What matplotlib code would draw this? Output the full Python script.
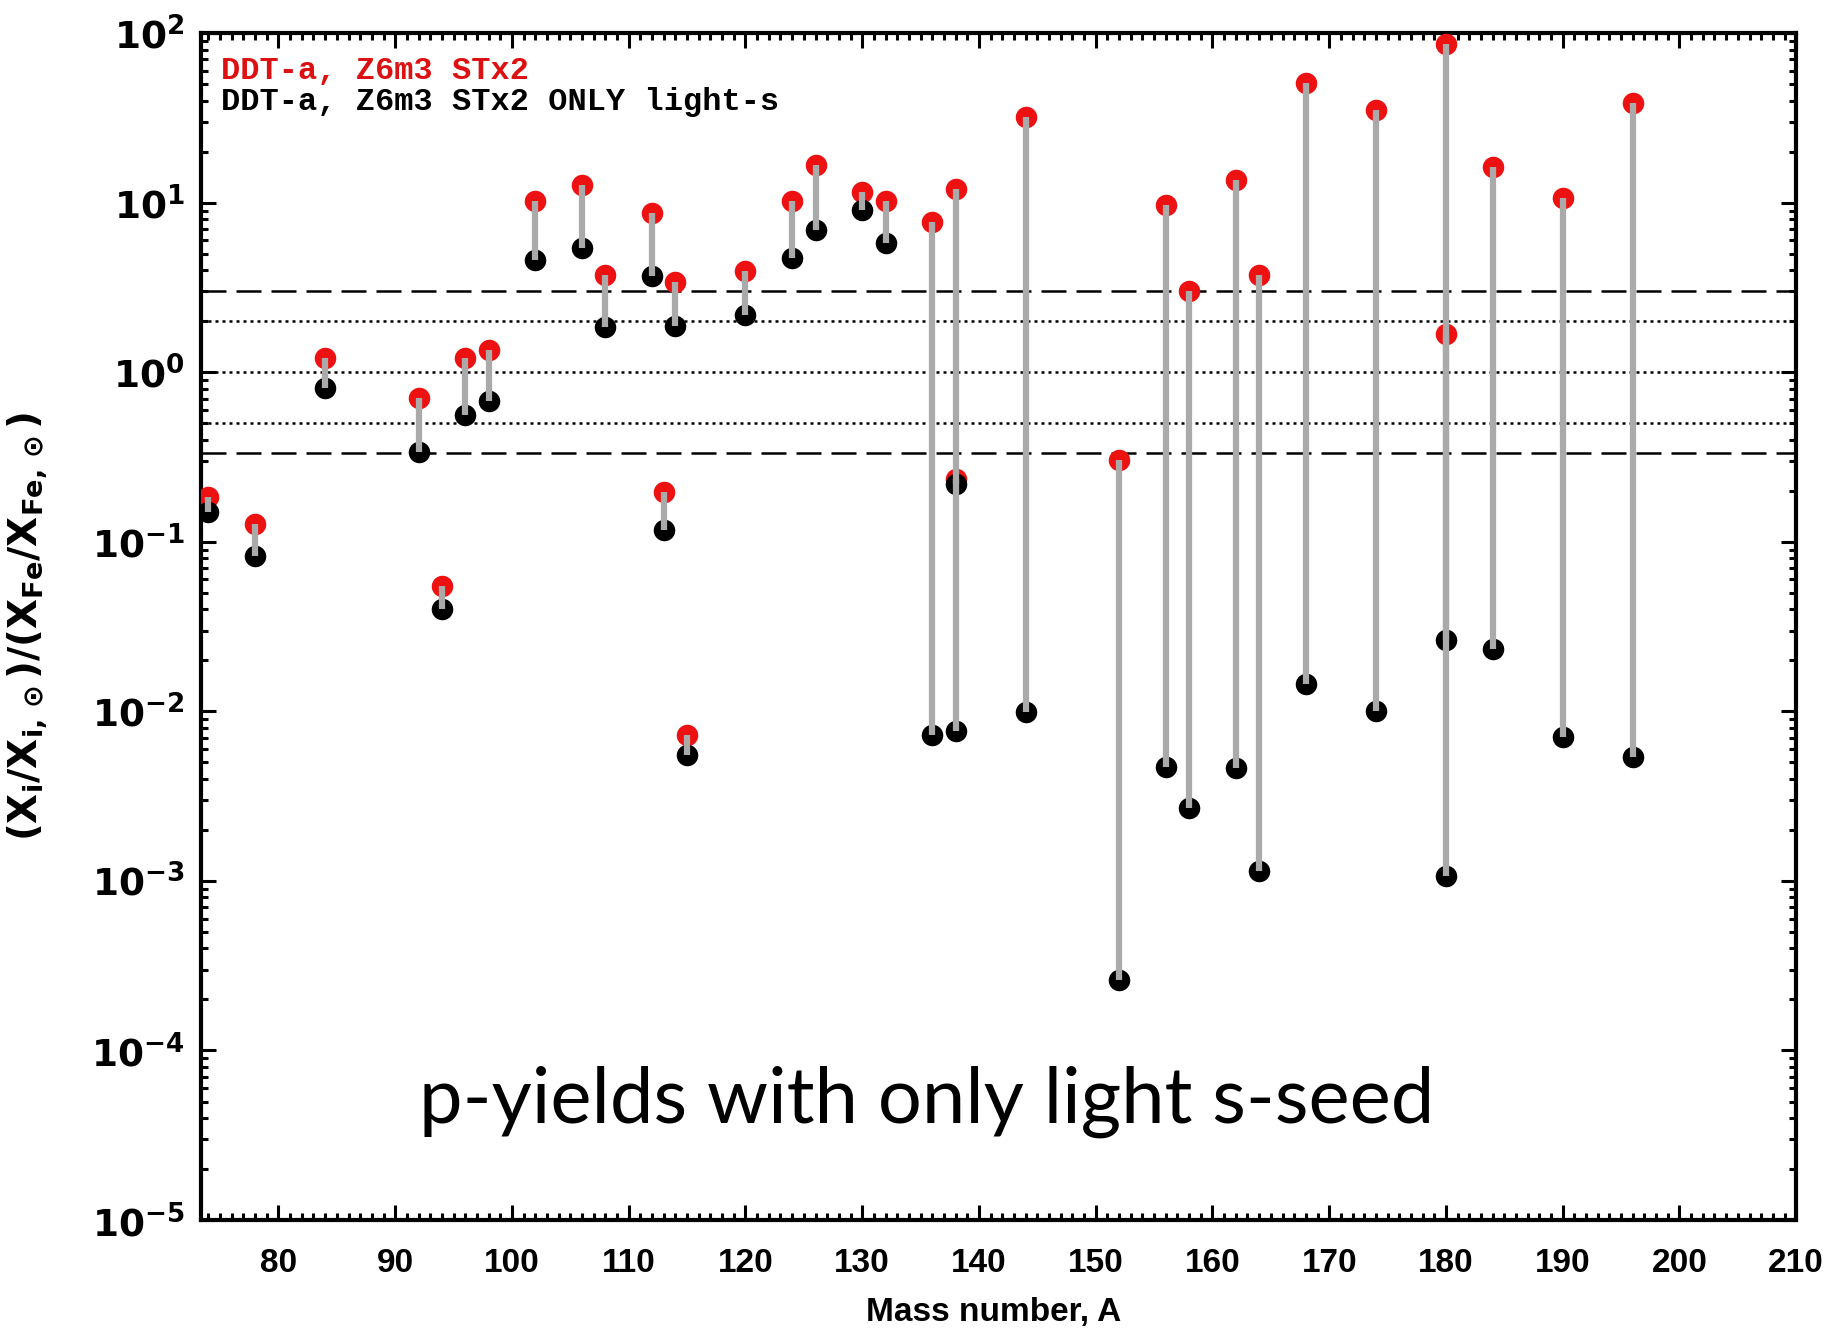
import numpy as np
import matplotlib
matplotlib.use('Agg')
import matplotlib.pyplot as plt
from matplotlib.ticker import MultipleLocator, LogLocator, NullFormatter

# Mass numbers of the p-nuclei and the two model yields
mass = [74, 78, 84, 92, 94, 96, 98, 102, 106, 108, 112, 113, 114, 115, 120,
        124, 126, 130, 132, 136, 138, 138, 144, 152, 156, 158, 162, 164, 168,
        174, 180, 180, 184, 190, 196]
full_s = [0.185, 0.127, 1.22, 0.71, 0.055, 1.22, 1.36, 10.2, 12.7, 3.76, 8.7,
          0.197, 3.42, 0.0073, 3.94, 10.2, 16.7, 11.6, 10.2, 7.7, 12.0, 0.235,
          31.9, 0.303, 9.7, 3.01, 13.6, 3.76, 50.6, 35.2, 86.7, 1.68, 16.2,
          10.7, 38.7]
light_s = [0.15, 0.083, 0.81, 0.34, 0.040, 0.56, 0.68, 4.6, 5.4, 1.84, 3.7,
           0.117, 1.87, 0.0055, 2.19, 4.7, 6.9, 9.1, 5.8, 0.0073, 0.0077, 0.22,
           0.00987, 0.000262, 0.00469, 0.00269, 0.00461, 0.00115, 0.01445,
           0.0100, 0.0264, 0.00107, 0.0232, 0.00708, 0.0054]

dashed_levels = [3.0, 1.0 / 3.0]
dotted_levels = [2.0, 1.0, 0.5]

plt.rcParams['font.family'] = ['DejaVu Sans']

fig = plt.figure(figsize=(18.31, 13.29), dpi=100)
ax = fig.add_axes([0.110, 0.082, 0.871, 0.893])

for y in dashed_levels:
    ax.axhline(y, color='black', lw=1.8, dashes=(10, 4), zorder=1)
for y in dotted_levels:
    ax.axhline(y, color='black', lw=1.8, dashes=(1.2, 1.6), zorder=1)

ax.plot(mass, full_s, 'o', color='#ee1111', ms=15.5, mec='none', zorder=3)
ax.plot(mass, light_s, 'o', color='black', ms=15.5, mec='none', zorder=4)
ax.vlines(mass, light_s, full_s, color='#aaaaaa', lw=4.5, zorder=5)

ax.set_yscale('log')
ax.set_xlim(73.4, 210)
ax.set_ylim(1e-5, 1e2)

ax.xaxis.set_minor_locator(MultipleLocator(1))
ax.set_xticks(range(80, 211, 10))
ax.set_xticklabels([str(v) for v in range(80, 211, 10)],
                   family='Liberation Sans', fontweight='bold', fontsize=24)
ax.set_yticks([10.0 ** e for e in range(-5, 3)])
ax.set_yticklabels([r'$\mathbf{10^{%d}}$' % e for e in range(-5, 3)], fontsize=27)
ax.yaxis.set_minor_locator(LogLocator(base=10, subs=np.arange(2, 10), numticks=20))
ax.yaxis.set_minor_formatter(NullFormatter())

ax.tick_params(which='both', direction='in', top=True, right=True, width=2.2)
ax.tick_params(which='major', length=11)
ax.tick_params(which='minor', length=5)
ax.tick_params(axis='x', which='major', pad=20)
ax.tick_params(axis='y', which='major', pad=12)
for sp in ax.spines.values():
    sp.set_linewidth(3)

ax.set_xlabel('Mass number, A', family='Liberation Sans',
              fontweight='bold', fontsize=24)
ax.xaxis.set_label_coords(0.497, -0.065)
ax.set_ylabel(r'$\mathbf{(X_i/X_{i,\odot})/(X_{Fe}/X_{Fe,\odot})}$', fontsize=28)
ax.yaxis.set_label_coords(-0.095, 0.5)

ax.text(0.012, 0.981, 'DDT-a, Z6m3 STx2', transform=ax.transAxes,
        color='#dd1111', fontsize=23, family='Liberation Mono',
        fontweight='bold', va='top')
ax.text(0.012, 0.955, 'DDT-a, Z6m3 STx2 ONLY light-s', transform=ax.transAxes,
        color='black', fontsize=23, family='Liberation Mono',
        fontweight='bold', va='top')

ax.text(0.455, 0.1, 'p-yields with only light s-seed', transform=ax.transAxes,
        fontsize=56, family='Lato', ha='center', va='center')

fig.savefig('out.png', dpi=100)
